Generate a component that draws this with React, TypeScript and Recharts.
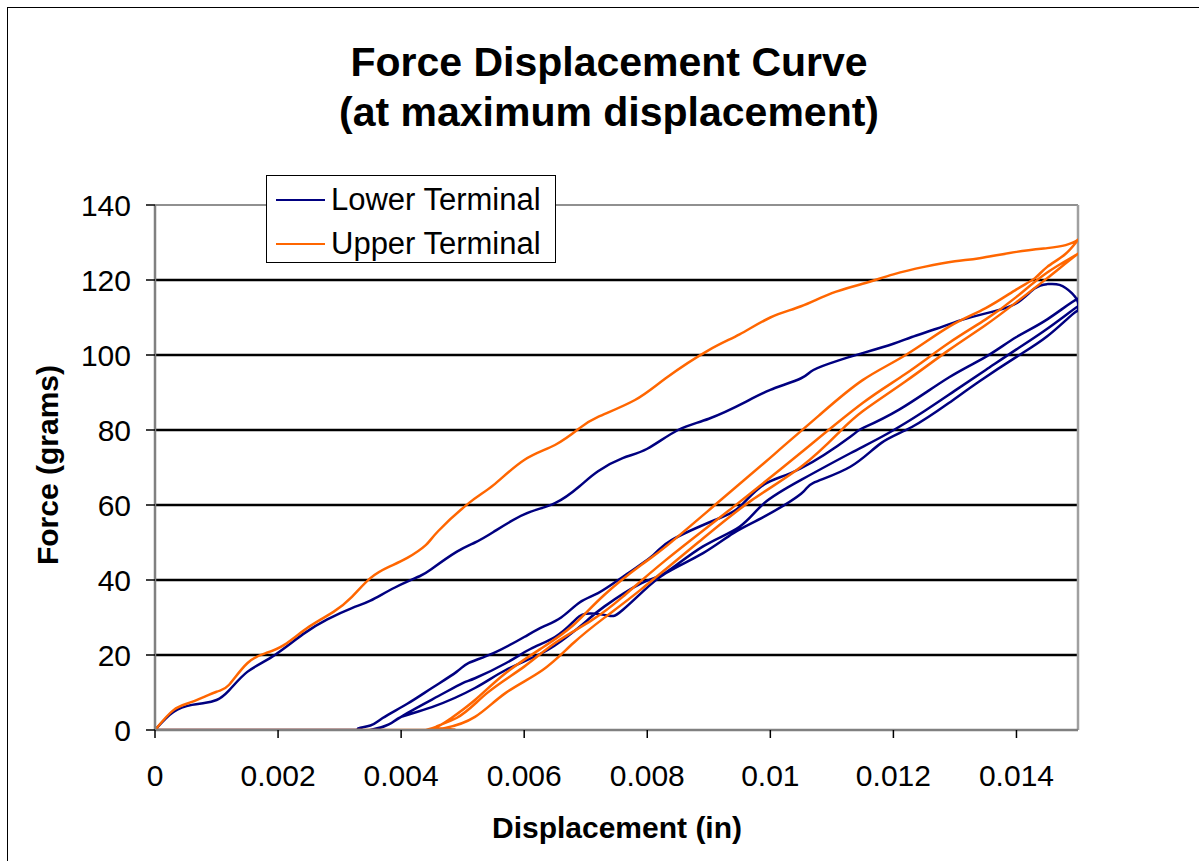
import {
  LineChart,
  Line,
  XAxis,
  YAxis,
  ReferenceLine,
  Legend,
} from "recharts";

// displacement (in), force (grams) pairs
const lowerLoad = [
  [0, 0], [0.0003, 4.8], [0.0006, 6.7], [0.0008, 7.2], [0.001, 8], [0.0012, 10.5],
  [0.0015, 15.5], [0.0019, 19.5], [0.0024, 25.5], [0.0028, 29.5], [0.0032, 32.5],
  [0.0035, 34.5], [0.0039, 38], [0.0043, 41], [0.0045, 43], [0.0049, 47.5],
  [0.0052, 50], [0.0055, 52.8], [0.006, 57.5], [0.0065, 60.5], [0.0069, 65],
  [0.0072, 69], [0.0076, 72.5], [0.008, 75], [0.0085, 80], [0.009, 83],
  [0.0096, 87.5], [0.01, 90.7], [0.0105, 93.8], [0.0107, 96], [0.0111, 98.5],
  [0.0115, 100.5], [0.012, 103], [0.0123, 104.8], [0.0127, 107], [0.0131, 109.3],
  [0.0136, 111.5], [0.014, 113.8], [0.0143, 117.8], [0.0145, 118.9], [0.0147, 118.7],
  [0.0149, 116.5], [0.015, 114], [0.015, 112], [0.0149, 110.7],
];

const lowerUnload1 = [
  [0.0145, 105], [0.014, 99.5], [0.0134, 93], [0.0129, 87.2], [0.0123, 80.8],
  [0.0118, 76.5], [0.0113, 70.2], [0.0107, 65.9], [0.0105, 63], [0.0099, 56.9],
  [0.0094, 52.5], [0.0089, 47.1], [0.0083, 41.8], [0.0079, 36.5], [0.0076, 32],
  [0.00745, 30.4], [0.0073, 30.7], [0.007, 31], [0.0068, 28.9], [0.0065, 24.8],
  [0.0061, 21.6], [0.0057, 17.8], [0.0052, 13.8], [0.005, 12.5], [0.0046, 9],
  [0.0041, 4.5], [0.0038, 1.5], [0.0036, 0.3], [0.0035, 0],
];

const lowerReload = [
  [0.0035, 0], [0.0038, 1.5], [0.004, 3.5], [0.0045, 6.1], [0.0052, 11.2],
  [0.0057, 16], [0.0063, 20.6], [0.0067, 24.9], [0.007, 28.9], [0.0073, 32.9],
  [0.0079, 39.1], [0.0083, 42], [0.0089, 48.9], [0.0095, 54.2], [0.0099, 60.5],
  [0.0105, 66.7], [0.0113, 73.8], [0.0119, 79], [0.0125, 85], [0.013, 90.5],
  [0.0135, 96], [0.014, 101.5], [0.0145, 107], [0.015, 113],
];

const lowerUnload2 = [
  [0.015, 113], [0.015, 115], [0.0145, 109.5], [0.014, 104.8], [0.0135, 99.5],
  [0.0129, 94], [0.0121, 85.5], [0.0115, 80.5], [0.0113, 78.2], [0.0105, 69.8],
  [0.0099, 65.5], [0.0095, 59.5], [0.0091, 56], [0.0084, 50.7], [0.0081, 46.7],
  [0.0076, 40.8], [0.0072, 36.5], [0.0069, 34], [0.0066, 30], [0.0063, 27.5],
  [0.006, 24.8], [0.0055, 20.5], [0.0051, 17.9], [0.0049, 15.5], [0.0045, 11.2],
  [0.0041, 7], [0.0037, 3.2], [0.0035, 1.2], [0.0033, 0.3], [0.003, 0], [0, 0],
];

const upperLoad = [
  [0, 0], [0.0003, 5.3], [0.0006, 7.5], [0.001, 10.2], [0.0012, 12], [0.0015, 17.8],
  [0.0018, 20.5], [0.0021, 22.7], [0.0025, 27.5], [0.0029, 31.5], [0.0032, 35.5],
  [0.0035, 40.5], [0.0038, 43.5], [0.0041, 45.9], [0.0044, 49.3], [0.0046, 53],
  [0.0051, 60.5], [0.0055, 65.3], [0.006, 72], [0.0065, 76], [0.0069, 80.5],
  [0.0072, 83.5], [0.0078, 88], [0.0083, 93.8], [0.009, 101.3], [0.0095, 105.5],
  [0.01, 110], [0.0105, 113], [0.011, 116.5], [0.0115, 119], [0.012, 121.5],
  [0.0125, 123.5], [0.013, 125], [0.0134, 125.8], [0.014, 127.5], [0.0145, 128.5],
  [0.0148, 129.3], [0.015, 130.7],
];

const upperUnload1 = [
  [0.015, 130.7], [0.0148, 127], [0.0145, 123.5], [0.0143, 120.5], [0.014, 117.5],
  [0.0135, 112.5], [0.0129, 107.5], [0.0122, 100], [0.0115, 93.3], [0.0108, 84],
  [0.0102, 75.5], [0.0099, 71.2], [0.0091, 60], [0.0083, 48.9], [0.0079, 44],
  [0.0073, 36], [0.0068, 28], [0.0063, 22], [0.0057, 15.2], [0.0052, 8],
  [0.0048, 3], [0.0046, 1], [0.0044, 0],
];

const upperReload = [
  [0.0044, 0], [0.0047, 0.5], [0.0052, 3.5], [0.0057, 9.9], [0.0063, 16],
  [0.0068, 23.2], [0.0073, 29.9], [0.0079, 37.5], [0.0089, 51], [0.0097, 61.3],
  [0.0105, 70.2], [0.0111, 79.1], [0.0115, 85], [0.0122, 93], [0.0129, 101.3],
  [0.0135, 108], [0.014, 114.1], [0.0145, 120.5], [0.015, 127],
];

const upperUnload2 = [
  [0.015, 127], [0.0145, 122], [0.014, 115.5], [0.0135, 109.5], [0.0129, 103.2],
  [0.0122, 95], [0.0115, 87.2], [0.0105, 74], [0.0094, 59.5], [0.0083, 45.3],
  [0.0076, 35.5], [0.0071, 29.3], [0.0065, 23.2], [0.006, 16.9], [0.0054, 9.9],
  [0.0049, 3.2], [0.0046, 0.5], [0.0045, 0], [0, 0],
];

const xTicks = [0, 0.002, 0.004, 0.006, 0.008, 0.01, 0.012, 0.014];
const yTicks = [0, 20, 40, 60, 80, 100, 120, 140];
const gridValues = [20, 40, 60, 80, 100, 120];

const toPoints = (branches: number[][][]) =>
  branches.flat().map(([x, y]) => ({ x, y }));

const lowerData = toPoints([lowerLoad, lowerUnload1, lowerReload, lowerUnload2]);
const upperData = toPoints([upperLoad, upperUnload1, upperReload, upperUnload2]);

const FONT = "'Liberation Sans', Arial, sans-serif";
const NAVY = "#000080";
const ORANGE = "#FF6600";

function LegendBox({ payload }: any) {
  return (
    <div
      style={{
        background: "#fff",
        border: "1px solid #000",
        width: 290,
        height: 88,
        boxSizing: "border-box",
        fontFamily: FONT,
        fontSize: 31,
        color: "#000",
        paddingTop: 2,
      }}
    >
      {(payload || []).map((p: any) => (
        <div
          key={p.value}
          style={{ display: "flex", alignItems: "center", height: 44 }}
        >
          <div
            style={{
              width: 49,
              height: 0,
              borderTop: `2px solid ${p.color}`,
              marginLeft: 9,
              marginRight: 6,
            }}
          />
          <span>{p.value}</span>
        </div>
      ))}
    </div>
  );
}

export default function App() {
  return (
    <div
      style={{
        position: "absolute",
        left: 0,
        top: 0,
        width: 1199,
        height: 861,
        overflow: "hidden",
        background: "#fff",
        fontFamily: FONT,
      }}
    >
      <div
        style={{
          position: "absolute",
          left: 7,
          top: 7,
          width: 1400,
          height: 1000,
          border: "1px solid #000",
        }}
      />
      <div
        style={{
          position: "absolute",
          left: 0,
          width: 1218,
          top: 37,
          textAlign: "center",
          fontWeight: "bold",
          fontSize: 41,
          lineHeight: "50px",
          color: "#000",
        }}
      >
        Force Displacement Curve
        <br />
        (at maximum displacement)
      </div>

      <div style={{ position: "absolute", left: 0, top: 0 }}>
        <LineChart
          width={1199}
          height={861}
          margin={{ top: 205, right: 121, bottom: 71, left: 75 }}
        >
          <XAxis
            dataKey="x"
            type="number"
            domain={[0, 0.015]}
            ticks={xTicks}
            allowDataOverflow
            height={60}
            tickSize={8}
            tickMargin={27}
            axisLine={{ stroke: "#808080", strokeWidth: 2.5 }}
            tickLine={{ stroke: "#000", strokeWidth: 1.5 }}
            tick={{ fontSize: 30, fill: "#000", fontFamily: FONT }}
          />
          <YAxis
            dataKey="y"
            type="number"
            domain={[0, 140]}
            ticks={yTicks}
            allowDataOverflow
            width={80}
            tickSize={9}
            tickMargin={15}
            axisLine={{ stroke: "#808080", strokeWidth: 2.5 }}
            tickLine={{ stroke: "#000", strokeWidth: 1.5 }}
            tick={{ fontSize: 30, fill: "#000", fontFamily: FONT }}
          />
          {gridValues.map((v) => (
            <ReferenceLine key={v} y={v} stroke="#000" strokeWidth={2.5} />
          ))}
          <ReferenceLine y={140} stroke="#909090" strokeWidth={2} />
          <ReferenceLine x={0.015} stroke="#a0a0a0" strokeWidth={2.5} />
          <Line
            data={lowerData}
            dataKey="y"
            name="Lower Terminal"
            type="natural"
            stroke={NAVY}
            strokeWidth={2.5}
            dot={false}
            activeDot={false}
            isAnimationActive={false}
          />
          <Line
            data={upperData}
            dataKey="y"
            name="Upper Terminal"
            type="natural"
            stroke={ORANGE}
            strokeWidth={2.5}
            dot={false}
            activeDot={false}
            isAnimationActive={false}
          />
          <Legend
            layout="vertical"
            align="center"
            verticalAlign="middle"
            content={<LegendBox />}
            wrapperStyle={{ left: 266, top: 175, width: 290, height: 88 }}
          />
        </LineChart>
      </div>

      <div
        style={{
          position: "absolute",
          left: 417,
          width: 400,
          top: 810,
          textAlign: "center",
          fontWeight: "bold",
          fontSize: 30,
          lineHeight: "36px",
          color: "#000",
        }}
      >
        Displacement (in)
      </div>
      <div
        style={{
          position: "absolute",
          left: 48 - 150,
          top: 465 - 18,
          width: 300,
          textAlign: "center",
          fontWeight: "bold",
          fontSize: 30,
          lineHeight: "36px",
          color: "#000",
          transform: "rotate(-90deg)",
        }}
      >
        Force (grams)
      </div>
    </div>
  );
}
